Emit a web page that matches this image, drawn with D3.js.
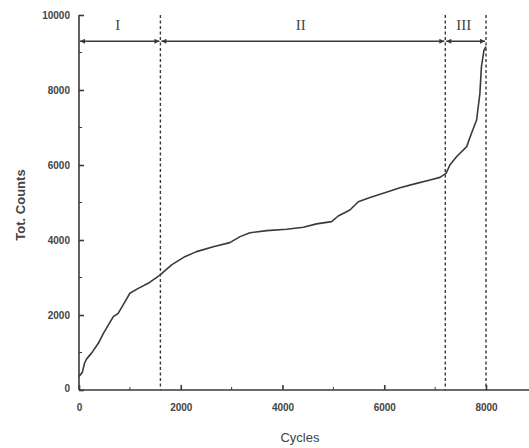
<!DOCTYPE html>
<html>
<head>
<meta charset="utf-8">
<script src="https://cdn.jsdelivr.net/npm/d3@7"></script>
<style>
  body { margin: 0; background: #fff; }
  svg { display: block; }
</style>
</head>
<body>
<svg id="chart" width="529" height="448"></svg>
<script>
// cumulative counts vs cycles
const cycles = [0, 65, 110, 150, 250, 380, 480, 575, 675, 770, 905, 1000, 1165, 1360, 1590, 1820, 2080, 2310, 2640, 2965, 3165, 3360, 3690, 4080, 4410, 4670, 4965, 5095, 5325, 5490, 5720, 5980, 6310, 6635, 6900, 7095, 7215, 7290, 7420, 7620, 7715, 7815, 7880, 7910, 7960, 8000]
const counts = [360, 470, 720, 830, 990, 1245, 1510, 1730, 1955, 2045, 2355, 2580, 2710, 2845, 3065, 3335, 3555, 3690, 3820, 3930, 4090, 4195, 4250, 4285, 4340, 4430, 4490, 4640, 4800, 5020, 5135, 5245, 5395, 5510, 5600, 5670, 5775, 6000, 6220, 6490, 6845, 7200, 7910, 8620, 9065, 9155]

const xTicks = [0, 2000, 4000, 6000, 8000]
const yTicks = [0, 2000, 4000, 6000, 8000, 10000]
const stageBounds = [0, 1600, 7200, 8000]
const stageNames = ['I', 'II', 'III']
const arrowLevel = 9300

const svg = d3.select('#chart')
const ink = '#3a3a3a'

const x = d3.scaleLinear().domain([0, 8000]).range([79, 486])
const y = d3.scaleLinear().domain([0, 10000]).range([390, 15])

svg.append('defs').selectAll('marker')
  .data(['end', 'start'])
  .join('marker')
  .attr('id', d => 'arr-' + d)
  .attr('viewBox', '0 0 10 10')
  .attr('refX', d => d === 'end' ? 10 : 0)
  .attr('refY', 5)
  .attr('markerWidth', 7)
  .attr('markerHeight', 5)
  .attr('markerUnits', 'userSpaceOnUse')
  .attr('orient', 'auto')
  .append('path')
  .attr('d', d => d === 'end' ? 'M0,0L10,5L0,10Z' : 'M10,0L0,5L10,10Z')
  .attr('fill', ink)

// x axis, ticks pointing inward
const xAxis = svg.append('g')
  .attr('transform', `translate(0,${y(0)})`)
  .call(d3.axisBottom(x).tickValues(xTicks).tickSize(-5).tickPadding(14).tickFormat(d3.format('d')))
xAxis.select('.domain').attr('d', `M${x(0)},0H529`)
xAxis.append('g').selectAll('line')
  .data([1000, 3000, 5000, 7000])
  .join('line')
  .attr('x1', d => x(d)).attr('x2', d => x(d))
  .attr('y1', 0).attr('y2', -3)
  .attr('stroke', ink)

// y axis
const yAxis = svg.append('g')
  .attr('transform', `translate(${x(0)},0)`)
  .call(d3.axisLeft(y).tickValues(yTicks).tickSize(-5).tickPadding(9).tickFormat(d3.format('d')))
yAxis.select('.domain').attr('d', `M0,${y(10000)}V${y(0)}`)
yAxis.append('g').selectAll('line')
  .data([1000, 3000, 5000, 7000, 9000])
  .join('line')
  .attr('y1', d => y(d)).attr('y2', d => y(d))
  .attr('x1', 0).attr('x2', 3)
  .attr('stroke', ink)

svg.selectAll('.domain, .tick line').attr('stroke', ink).attr('stroke-width', 1.6)
svg.selectAll('.tick text')
  .attr('fill', '#444')
  .attr('font-family', 'Liberation Sans, Arial, sans-serif')
  .attr('font-size', 10)
  .attr('font-weight', 'bold')
yAxis.selectAll('.tick').filter(d => d === 0).select('text').attr('dy', '0.1em')

// stage boundaries
svg.append('g')
  .selectAll('line')
  .data(stageBounds.slice(1))
  .join('line')
  .attr('x1', d => x(d)).attr('x2', d => x(d))
  .attr('y1', y(10000)).attr('y2', y(0))
  .attr('stroke', ink)
  .attr('stroke-width', 1.4)
  .attr('stroke-dasharray', '3,2.5')

// stage arrows
const stages = stageNames.map((n, i) => ({ name: n, a: stageBounds[i], b: stageBounds[i + 1] }))
svg.append('g')
  .selectAll('line')
  .data(stages)
  .join('line')
  .attr('x1', d => x(d.a) + 1).attr('x2', d => x(d.b) - 1)
  .attr('y1', y(arrowLevel)).attr('y2', y(arrowLevel))
  .attr('stroke', ink)
  .attr('stroke-width', 1.6)
  .attr('marker-start', 'url(#arr-start)')
  .attr('marker-end', 'url(#arr-end)')

svg.append('g')
  .selectAll('text')
  .data(stages)
  .join('text')
  .attr('x', d => x((d.a + d.b) / 2) - 2)
  .attr('y', 30)
  .attr('text-anchor', 'middle')
  .attr('font-family', 'Liberation Serif, Times New Roman, serif')
  .attr('font-size', 15)
  .attr('fill', '#444')
  .text(d => d.name)

// curve
const pts = cycles.map((c, i) => [c, counts[i]])
svg.append('path')
  .datum(pts)
  .attr('fill', 'none')
  .attr('stroke', ink)
  .attr('stroke-width', 1.6)
  .attr('stroke-linejoin', 'round')
  .attr('d', d3.line().x(d => x(d[0])).y(d => y(d[1])))

// axis titles
svg.append('text')
  .attr('x', 300).attr('y', 442)
  .attr('text-anchor', 'middle')
  .attr('font-family', 'Liberation Sans, Arial, sans-serif')
  .attr('font-size', 13)
  .attr('fill', '#444')
  .text('Cycles')

svg.append('text')
  .attr('transform', 'translate(25,205) rotate(-90)')
  .attr('text-anchor', 'middle')
  .attr('font-family', 'Liberation Sans, Arial, sans-serif')
  .attr('font-size', 13)
  .attr('font-weight', 'bold')
  .attr('fill', '#444')
  .text('Tot. Counts')
</script>
</body>
</html>
